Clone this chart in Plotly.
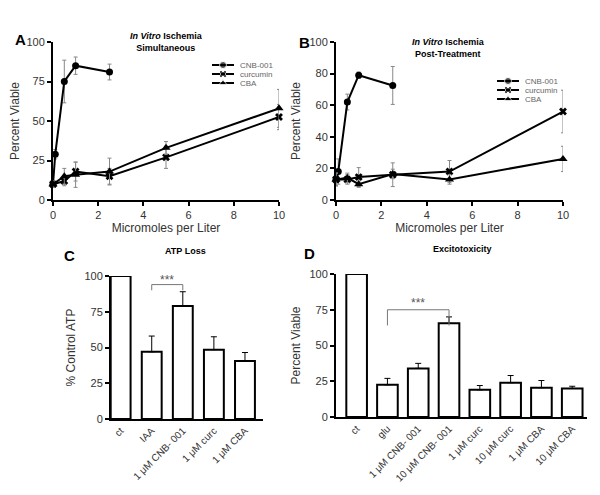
import plotly.graph_objects as go

# panel A - in vitro ischemia, simultaneous
a_cnb_x = [0, 0.1, 0.5, 1, 2.5]
a_cnb_y = [10, 29, 75, 85, 81]
a_cnb_err = [2, 3, 13.5, 5.5, 5]
a_dose = [0, 0.5, 1, 2.5, 5, 10]
a_curc_y = [10, 12, 18, 15, 27, 52.5]
a_curc_err = [2, 3, 6, 5, 7, 8]
a_cba_y = [10, 15, 16, 18, 33, 58]
a_cba_err = [2, 5, 8, 8.5, 4, 12]

# panel B - in vitro ischemia, post-treatment
b_cnb_x = [0, 0.1, 0.5, 1, 2.5]
b_cnb_y = [13, 18, 62, 79, 72.5]
b_cnb_err = [4, 8, 5, 2, 12]
b_dose = [0, 0.5, 1, 2.5, 5, 10]
b_curc_y = [13, 13, 14.5, 16, 18, 56]
b_curc_err = [4, 3, 6, 7.5, 7, 13.5]
b_cba_y = [13, 14, 10, 16.5, 13, 26]
b_cba_err = [4, 3, 2, 3, 3, 8]

series_names = ["CNB-001", "curcumin", "CBA"]
symbols = ["circle", "x", "triangle-up"]

# panel C - ATP loss
c_labels = ["ct", "IAA", "1 μM CNB- 001", "1 μM curc", "1 μM CBA"]
c_vals = [100, 47, 79, 48.5, 40.5]
c_err = [0, 11, 10, 9, 6]

# panel D - excitotoxicity
d_labels = ["ct", "glu", "1 μM CNB- 001", "10 μM CNB- 001", "1 μM curc",
            "10 μM curc", "1 μM CBA", "10 μM CBA"]
d_vals = [100, 22.5, 34, 65.5, 19, 24, 20.5, 20]
d_err = [0, 4.5, 3.5, 4.5, 3, 5, 5, 1.5]

FONT = "Liberation Sans, Arial, sans-serif"
W, H, OFF = 584, 479, 8  # page body margin of 8px shifts the figure


def px(x):
    return (x - OFF) / W


def py(y):
    return 1 - (y - OFF) / H


err_style = dict(type="data", color="#888888", thickness=1, width=2)

fig = go.Figure()


def add_lines(xa, ya, data):
    for name, sym, (x, y, e) in zip(series_names, symbols, data):
        fig.add_trace(go.Scatter(
            x=x, y=y, name=name, mode="lines+markers", xaxis=xa, yaxis=ya,
            showlegend=False, cliponaxis=False,
            line=dict(color="black", width=2),
            marker=dict(symbol=sym, size=8 if sym == "triangle-up" else 7, color="black"),
            error_y=dict(array=e, **err_style),
        ))


add_lines("x", "y", [(a_cnb_x, a_cnb_y, a_cnb_err), (a_dose, a_curc_y, a_curc_err),
                     (a_dose, a_cba_y, a_cba_err)])
add_lines("x2", "y2", [(b_cnb_x, b_cnb_y, b_cnb_err), (b_dose, b_curc_y, b_curc_err),
                       (b_dose, b_cba_y, b_cba_err)])

bar_err = dict(type="data", symmetric=False, color="black", thickness=1, width=3)
fig.add_trace(go.Bar(
    x=c_labels, y=c_vals, xaxis="x3", yaxis="y3", showlegend=False, width=0.64,
    marker=dict(color="white", line=dict(color="black", width=2)),
    error_y=dict(array=c_err, arrayminus=[0] * len(c_err), **bar_err),
))
fig.add_trace(go.Bar(
    x=d_labels, y=d_vals, xaxis="x4", yaxis="y4", showlegend=False, width=0.67,
    marker=dict(color="white", line=dict(color="black", width=2)),
    error_y=dict(array=d_err, arrayminus=[0] * len(d_err), **bar_err),
))

# small legends drawn on a pixel-based overlay axis (plotly's legend rows are too tall)
for lx, ly in [(212, 65), (497, 81)]:
    for i, (name, sym) in enumerate(zip(series_names, symbols)):
        yy = ly + i * 9
        fig.add_trace(go.Scatter(
            x=[lx, lx + 11, lx + 22], y=[yy, yy, yy], mode="lines+markers",
            xaxis="x5", yaxis="y5", showlegend=False, hoverinfo="skip",
            line=dict(color="black", width=2),
            marker=dict(symbol=sym, size=[0, 7, 0], color="black"),
        ))
        fig.add_annotation(x=lx + 26, y=yy, xref="x5", yref="y5", text=name,
                           xanchor="left", yanchor="middle", showarrow=False,
                           font=dict(size=8, color="#666"))

axis_common = dict(showline=True, linecolor="black", linewidth=2, ticks="outside",
                   tickcolor="black", tickwidth=2, ticklen=4, showgrid=False,
                   zeroline=False, automargin=False, tickfont=dict(size=11, color="#333"),
                   title_font=dict(size=12, color="#333"))
bar_x = {**axis_common, "ticks": "", "tickfont": dict(size=10, color="#333")}

fig.update_layout(
    width=W, height=H, margin=dict(l=0, r=0, t=0, b=0),
    paper_bgcolor="white", plot_bgcolor="rgba(0,0,0,0)",
    font=dict(family=FONT, color="black"), bargap=0.3,
    xaxis=dict(domain=[px(53), px(279)], anchor="y", range=[0, 10], dtick=2,
               title=dict(text="Micromoles per Liter", standoff=2), **axis_common),
    yaxis=dict(domain=[py(200), py(42)], anchor="x", range=[0, 100], dtick=25,
               title=dict(text="Percent Viable", standoff=6), **axis_common),
    xaxis2=dict(domain=[px(336), px(563)], anchor="y2", range=[0, 10], dtick=2,
                title=dict(text="Micromoles per Liter", standoff=2), **axis_common),
    yaxis2=dict(domain=[py(200), py(42)], anchor="x2", range=[0, 100], dtick=20,
                title=dict(text="Percent Viable", standoff=6), **axis_common),
    xaxis3=dict(domain=[px(111), px(263)], anchor="y3", range=[-0.31, 4.58],
                tickangle=-45, **bar_x),
    yaxis3=dict(domain=[py(419), py(276)], anchor="x3", range=[0, 100], dtick=25,
                title=dict(text="% Control ATP", standoff=6), **axis_common),
    xaxis4=dict(domain=[px(336), px(587)], anchor="y4", range=[-0.67, 7.48],
                tickangle=-45, **bar_x),
    yaxis4=dict(domain=[py(417), py(274)], anchor="x4", range=[0, 100], dtick=25,
                title=dict(text="Percent Viable", standoff=6), **axis_common),
    xaxis5=dict(domain=[0, 1], anchor="y5", range=[OFF, OFF + W], visible=False,
                fixedrange=True),
    yaxis5=dict(domain=[0, 1], anchor="x5", range=[OFF + H, OFF], visible=False,
                fixedrange=True),
)

# significance brackets
for xa, ya, x0, x1, ytop, ylow, ystar in [
    ("x3", "y3", 1, 2, 94, 90, 97.5),
    ("x4", "y4", 1, 3, 75, 64, 80),
]:
    fig.add_shape(type="path", xref=xa, yref=ya,
                  path=f"M {x0},{ylow} L {x0},{ytop} L {x1},{ytop} L {x1},{ylow}",
                  line=dict(color="#777", width=1))
    fig.add_annotation(x=(x0 + x1) / 2, y=ystar, xref=xa, yref=ya, text="***",
                       showarrow=False, font=dict(size=12, color="#555"))

# panel letters and titles
for txt, x, y in [("A", 20, 39), ("B", 304, 43), ("C", 69, 255), ("D", 309, 253)]:
    fig.add_annotation(x=px(x), y=py(y), xref="paper", yref="paper",
                       xanchor="center", yanchor="middle",
                       text=f"<b>{txt}</b>", showarrow=False,
                       font=dict(size=15, color="black"))

titles = [
    ("<b><i>In Vitro</i> Ischemia<br>Simultaneous</b>", 166, 42),
    ("<b><i>In Vitro</i> Ischemia<br>Post-Treatment</b>", 448, 48),
    ("<b>ATP Loss</b>", 185, 251),
    ("<b>Excitotoxicity</b>", 462, 249),
]
for txt, x, y in titles:
    fig.add_annotation(x=px(x), y=py(y), xref="paper", yref="paper",
                       xanchor="center", yanchor="middle",
                       text=txt, showarrow=False, font=dict(size=9, color="black"))

fig.write_html("out.html")
